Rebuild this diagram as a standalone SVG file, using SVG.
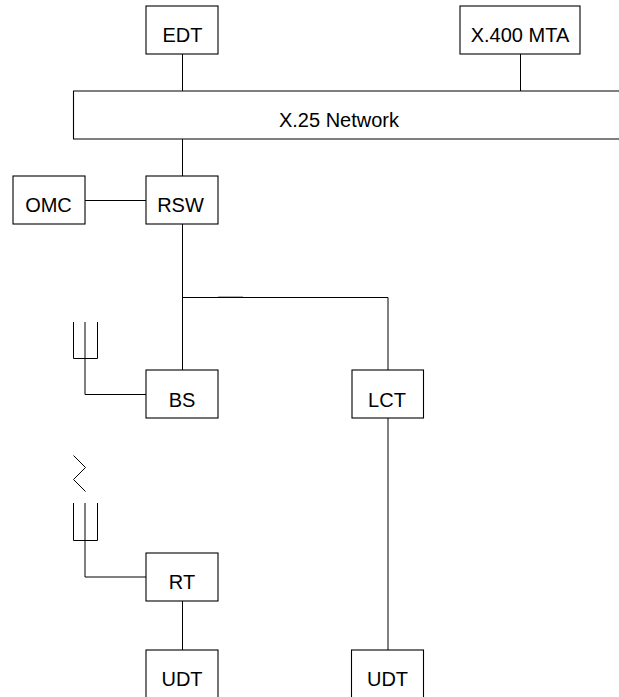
<svg xmlns="http://www.w3.org/2000/svg" width="619" height="697" viewBox="0 0 619 697">
<style>
.b{fill:#fff;stroke:#000;stroke-width:1.1}
.l{fill:none;stroke:#000;stroke-width:1}
text{font-family:"Liberation Sans",Arial,sans-serif;font-size:20px;fill:#000;text-anchor:middle}
</style>
<rect width="619" height="697" fill="#fff"/>
<g id="connectors">
<path class="l" d="M182.500 54V91M520.500 54V91M182.500 139V176M85 200.500H146M182.500 224V370M182.500 297.500H388V370M388 418V650M182.500 601V650"/>
<path class="l" d="M218 297.200H243"/>
<path class="l" d="M85 358V394.500H146M85 540V577H146"/>
</g>
<g id="antenna-bs"><path class="l" d="M73.500 322V358.500H97.500V322M85 322V358"/></g>
<g id="antenna-rt"><path class="l" d="M73.500 503V540.500H97.500V503M85 503V540"/></g>
<g id="zigzag"><path class="l" d="M73.500 455.500L85.500 467.500L73.500 479.500L85.500 491.500"/></g>
<g id="edt"><rect class="b" x="146" y="6" width="72" height="48"/><text x="182.500" y="42">EDT</text></g>
<g id="x400"><rect class="b" x="460" y="6" width="120" height="48"/><text x="520" y="42">X.400 MTA</text></g>
<g id="x25"><path class="b" d="M619 91H73.500V139H619"/><text x="339" y="127">X.25 Network</text></g>
<g id="omc"><rect class="b" x="13" y="176" width="72" height="48"/><text x="48.500" y="212">OMC</text></g>
<g id="rsw"><rect class="b" x="146" y="176" width="72" height="48"/><text x="180.500" y="212">RSW</text></g>
<g id="bs"><rect class="b" x="146" y="370" width="72" height="48"/><text x="182" y="407">BS</text></g>
<g id="lct"><rect class="b" x="352" y="370" width="71.500" height="48"/><text x="387" y="407">LCT</text></g>
<g id="rt"><rect class="b" x="146" y="553" width="72" height="48"/><text x="182" y="589">RT</text></g>
<g id="udt1"><rect class="b" x="146" y="650" width="72" height="48"/><text x="182" y="686">UDT</text></g>
<g id="udt2"><rect class="b" x="351.500" y="650" width="72" height="48"/><text x="387.500" y="686">UDT</text></g>
</svg>
